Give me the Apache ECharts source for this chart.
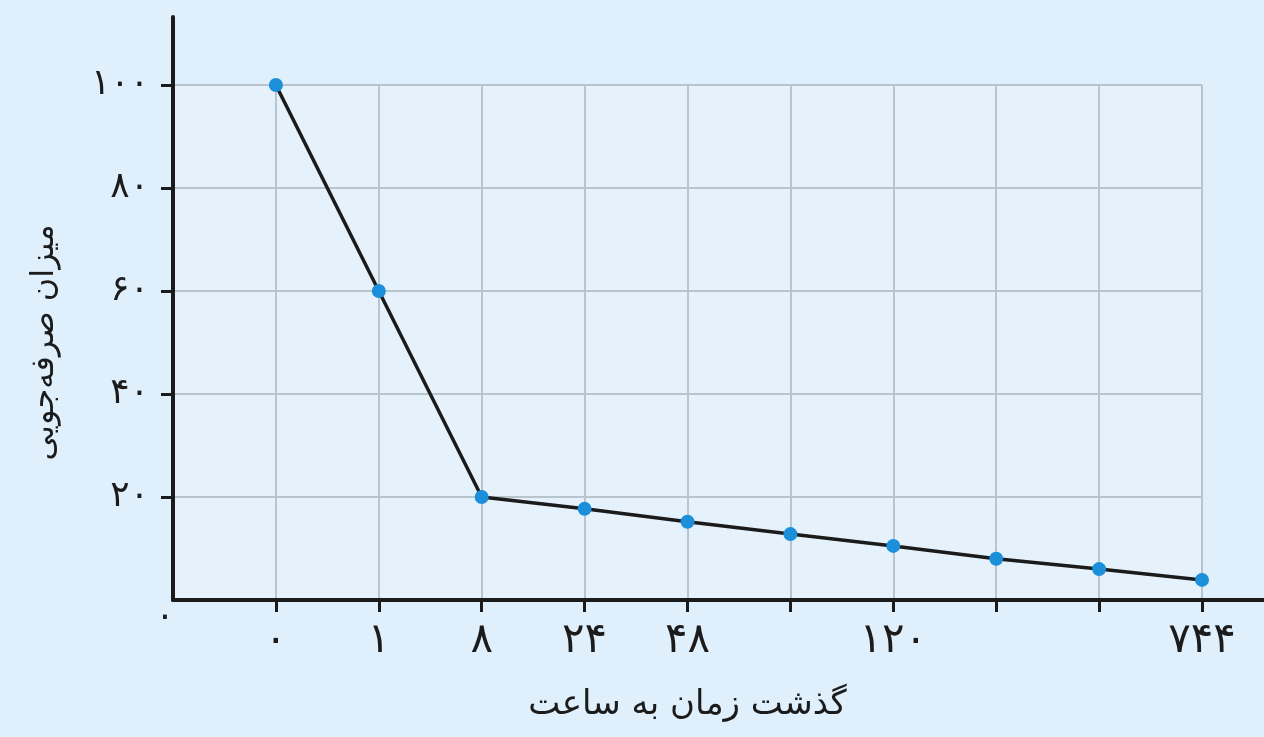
<!DOCTYPE html>
<html>
<head>
<meta charset="utf-8">
<script src="https://cdn.jsdelivr.net/npm/echarts@6/dist/echarts.min.js"></script>
<style>
html,body{margin:0;padding:0;background:#dff0fc;}
#c{width:1264px;height:737px;}
</style>
</head>
<body>
<div id="c"></div>
<script>
// Category labels (hours); first entry is the origin slot
const categories = ['۰o', '۰', '۱', '۸', '۲۴', '۴۸', '', '۱۲۰', '', '', '۷۴۴'];
// Savings values (%)
const savings = [null, 100, 60, 20, 17.7, 15.2, 12.8, 10.5, 8.0, 6.0, 3.9];
// Y tick labels
const yTicks = [20, 40, 60, 80, 100];
const yTickLabels = {0: '۰', 20: '۲۰', 40: '۴۰', 60: '۶۰', 80: '۸۰', 100: '۱۰۰'};
const xName = 'گذشت زمان به ساعت';
const yName = 'میزان صرفه‌جویی';

const FONT = 'DejaVu Sans';
const INK = '#1b1b1b';
const GRIDLINE = '#b9c5cd';

const chart = echarts.init(document.getElementById('c'));
chart.setOption({
  backgroundColor: '#dff0fc',
  animation: false,
  grid: [
    {left: 173, top: 85, width: 1029, height: 515, show: true, backgroundColor: '#e5f2fb', borderWidth: 0},
    {left: 173, top: 17, right: 0, height: 583, show: false}
  ],
  xAxis: [
    {
      type: 'category', gridIndex: 0, data: categories, boundaryGap: false,
      axisLine: {show: false},
      axisTick: {show: true, length: 12, inside: false, lineStyle: {color: INK, width: 3},
        interval: function (i) { return i !== 0; }},
      splitLine: {show: true, lineStyle: {color: GRIDLINE, width: 2}},
      axisLabel: {
        interval: 0, margin: 0,
        formatter: function (v) {
          if (v === '۰o') return '{o|۰}';
          return '{n|' + v + '}';
        },
        rich: {
          n: {fontFamily: FONT, fontSize: 42, color: INK, padding: [20, 0, 0, 0]},
          o: {fontFamily: FONT, fontSize: 36, color: INK, padding: [0, 16, 0, 0]}
        }
      },
      name: xName, nameLocation: 'middle', nameGap: 88,
      nameTextStyle: {fontFamily: FONT, fontSize: 34, color: INK}
    },
    {
      type: 'value', gridIndex: 1, min: 0, max: 1,
      axisLine: {show: true, lineStyle: {color: INK, width: 4}},
      axisTick: {show: false}, axisLabel: {show: false}, splitLine: {show: false}
    }
  ],
  yAxis: [
    {
      type: 'value', gridIndex: 0, min: 0, max: 100, interval: 20,
      axisLine: {show: false},
      axisTick: {show: true, length: 12, lineStyle: {color: INK, width: 3}, customValues: yTicks},
      splitLine: {show: true, lineStyle: {color: GRIDLINE, width: 2}},
      axisLabel: {
        margin: 24, customValues: yTicks,
        fontFamily: FONT, fontSize: 36, color: INK, padding: [0, 0, 8, 0],
        formatter: function (v) { return yTickLabels[v]; }
      },
      name: yName, nameLocation: 'middle', nameGap: 112,
      nameTextStyle: {fontFamily: FONT, fontSize: 32, color: INK}
    },
    {
      type: 'value', gridIndex: 1, min: 0, max: 1,
      axisLine: {show: true, lineStyle: {color: INK, width: 4}},
      axisTick: {show: false}, axisLabel: {show: false}, splitLine: {show: false}
    }
  ],
  series: [{
    type: 'line', xAxisIndex: 0, yAxisIndex: 0, data: savings,
    symbol: 'circle', symbolSize: 14,
    itemStyle: {color: '#1b8fd9'},
    lineStyle: {color: INK, width: 3.5},
    z: 5
  }]
});
</script>
</body>
</html>
